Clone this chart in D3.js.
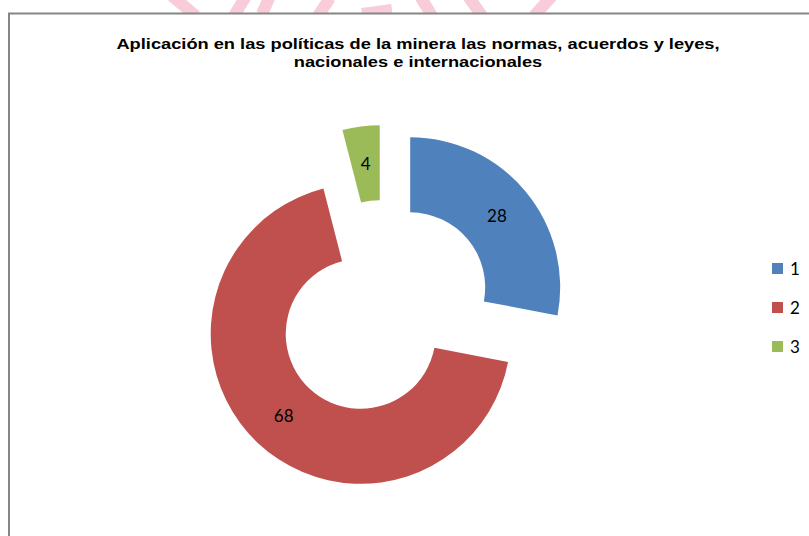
<!DOCTYPE html>
<html>
<head>
<meta charset="utf-8">
<script src="https://cdn.jsdelivr.net/npm/d3@7"></script>
<style>
  body { margin: 0; background: #fff; }
  svg { display: block; }
</style>
</head>
<body>
<div id="chart"></div>
<script>
var categories = ["1", "2", "3"];
var values = [28, 68, 4];
var colors = ["#4F81BD", "#C0504D", "#9BBB59"];
var titleLines = ["Aplicación en las políticas de la minera las normas, acuerdos y leyes,",
                  "nacionales e internacionales"];

var width = 809, height = 536;

var svg = d3.select("#chart").append("svg")
  .attr("width", width)
  .attr("height", height);

// faint pink watermark showing above the chart frame
var wm = svg.append("g")
  .attr("stroke", "#F9CCDA")
  .attr("stroke-width", 12)
  .attr("fill", "none");
[[172, -4, 196, 16], [246, -4, 234, 16], [262, 14, 270, -4], [318, 16, 330, -2],
 [362, 14, 392, 10], [420, -4, 432, 16], [468, -4, 482, 16], [552, -4, 534, 16]]
  .forEach(function(s){
    wm.append("line").attr("x1", s[0]).attr("y1", s[1]).attr("x2", s[2]).attr("y2", s[3]);
  });

// chart frame
svg.append("rect")
  .attr("x", 9)
  .attr("y", 13.5)
  .attr("width", width + 20)
  .attr("height", height + 20)
  .attr("fill", "#fff")
  .attr("stroke", "#868686")
  .attr("stroke-width", 2);

// title (source rendering is stretched horizontally)
svg.append("g")
  .attr("transform", "translate(418,0) scale(1.25,1)")
  .append("text")
  .attr("x", 0)
  .attr("y", 49)
  .attr("text-anchor", "middle")
  .style("font-family", "'Liberation Sans', Arial, sans-serif")
  .style("font-weight", "bold")
  .style("font-size", "14.6px")
  .style("fill", "#000")
  .selectAll("tspan")
  .data(titleLines)
  .enter()
  .append("tspan")
    .attr("x", 0)
    .attr("dy", function(d, i){ return i ? 18 : 0; })
    .text(function(d){ return d; });

// exploded doughnut
var cx = 384, cy = 309, explode = 34;
var outerR = 150, innerR = 75;

var pie = d3.pie().sort(null).value(function(d){ return d; });
var arc = d3.arc().innerRadius(innerR).outerRadius(outerR);
var color = d3.scaleOrdinal().domain(categories).range(colors);

var slices = svg.append("g")
  .attr("transform", "translate(" + cx + "," + cy + ")")
  .selectAll("g")
  .data(pie(values))
  .enter()
  .append("g")
    .attr("transform", function(d){
      var a = (d.startAngle + d.endAngle) / 2;
      return "translate(" + (Math.sin(a) * explode) + "," + (-Math.cos(a) * explode) + ")";
    });

slices.append("path")
  .attr("d", arc)
  .style("fill", function(d, i){ return color(categories[i]); });

slices.append("text")
  .attr("transform", function(d){ return "translate(" + arc.centroid(d) + ")"; })
  .attr("text-anchor", "middle")
  .attr("dy", "0.35em")
  .style("font-family", "Lato, 'Open Sans', sans-serif")
  .style("font-size", "17px")
  .style("fill", "#000")
  .text(function(d){ return d.value; });

// legend
var legend = svg.append("g")
  .selectAll("g")
  .data(categories)
  .enter()
  .append("g")
    .attr("transform", function(d, i){ return "translate(772," + (263 + i * 39) + ")"; });

legend.append("rect")
  .attr("width", 11)
  .attr("height", 11)
  .style("fill", function(d){ return color(d); });

legend.append("text")
  .attr("x", 18)
  .attr("y", 6)
  .attr("dy", "0.35em")
  .style("font-family", "Lato, 'Open Sans', sans-serif")
  .style("font-size", "17px")
  .style("fill", "#000")
  .text(function(d){ return d; });
</script>
</body>
</html>
